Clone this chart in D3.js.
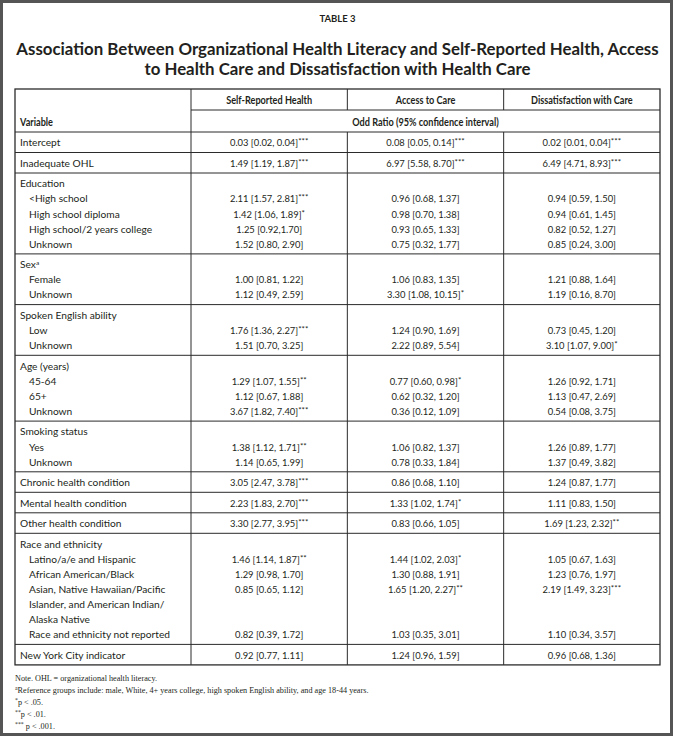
<!DOCTYPE html>
<html>
<head>
<meta charset="utf-8">
<script src="https://cdn.jsdelivr.net/npm/d3@7"></script>
<style>
  html, body { margin: 0; padding: 0; background: #fff; }
  svg { display: block; }
</style>
</head>
<body>
<div id="table3"></div>
<script>
// Row groups: first entry is the group label, following entries are indented sub-rows
const variableGroups = [
  ['Intercept'],
  ['Inadequate OHL'],
  ['Education', '<High school', 'High school diploma', 'High school/2 years college', 'Unknown'],
  ['Sex|a', 'Female', 'Unknown'],
  ['Spoken English ability', 'Low', 'Unknown'],
  ['Age (years)', '45-64', '65+', 'Unknown'],
  ['Smoking status', 'Yes', 'Unknown'],
  ['Chronic health condition'],
  ['Mental health condition'],
  ['Other health condition'],
  ['Race and ethnicity', 'Latino/a/e and Hispanic', 'African American/Black',
    'Asian, Native Hawaiian/Pacific', 'Islander, and American Indian/', 'Alaska Native',
    'Race and ethnicity not reported'],
  ['New York City indicator']
];

const columns = ['Self-Reported Health', 'Access to Care', 'Dissatisfaction with Care'];

// one entry per printed line, '' where the line carries no estimate
const selfReported = [
  '0.03 [0.02, 0.04]***',
  '1.49 [1.19, 1.87]***',
  '', '2.11 [1.57, 2.81]***', '1.42 [1.06, 1.89]*', '1.25 [0.92,1.70]', '1.52 [0.80, 2.90]',
  '', '1.00 [0.81, 1.22]', '1.12 [0.49, 2.59]',
  '', '1.76 [1.36, 2.27]***', '1.51 [0.70, 3.25]',
  '', '1.29 [1.07, 1.55]**', '1.12 [0.67, 1.88]', '3.67 [1.82, 7.40]***',
  '', '1.38 [1.12, 1.71]**', '1.14 [0.65, 1.99]',
  '3.05 [2.47, 3.78]***',
  '2.23 [1.83, 2.70]***',
  '3.30 [2.77, 3.95]***',
  '', '1.46 [1.14, 1.87]**', '1.29 [0.98, 1.70]', '0.85 [0.65, 1.12]', '', '', '0.82 [0.39, 1.72]',
  '0.92 [0.77, 1.11]'
];

const accessToCare = [
  '0.08 [0.05, 0.14]***',
  '6.97 [5.58, 8.70]***',
  '', '0.96 [0.68, 1.37]', '0.98 [0.70, 1.38]', '0.93 [0.65, 1.33]', '0.75 [0.32, 1.77]',
  '', '1.06 [0.83, 1.35]', '3.30 [1.08, 10.15]*',
  '', '1.24 [0.90, 1.69]', '2.22 [0.89, 5.54]',
  '', '0.77 [0.60, 0.98]*', '0.62 [0.32, 1.20]', '0.36 [0.12, 1.09]',
  '', '1.06 [0.82, 1.37]', '0.78 [0.33, 1.84]',
  '0.86 [0.68, 1.10]',
  '1.33 [1.02, 1.74]*',
  '0.83 [0.66, 1.05]',
  '', '1.44 [1.02, 2.03]*', '1.30 [0.88, 1.91]', '1.65 [1.20, 2.27]**', '', '', '1.03 [0.35, 3.01]',
  '1.24 [0.96, 1.59]'
];

const dissatisfaction = [
  '0.02 [0.01, 0.04]***',
  '6.49 [4.71, 8.93]***',
  '', '0.94 [0.59, 1.50]', '0.94 [0.61, 1.45]', '0.82 [0.52, 1.27]', '0.85 [0.24, 3.00]',
  '', '1.21 [0.88, 1.64]', '1.19 [0.16, 8.70]',
  '', '0.73 [0.45, 1.20]', '3.10 [1.07, 9.00]*',
  '', '1.26 [0.92, 1.71]', '1.13 [0.47, 2.69]', '0.54 [0.08, 3.75]',
  '', '1.26 [0.89, 1.77]', '1.37 [0.49, 3.82]',
  '1.24 [0.87, 1.77]',
  '1.11 [0.83, 1.50]',
  '1.69 [1.23, 2.32]**',
  '', '1.05 [0.67, 1.63]', '1.23 [0.76, 1.97]', '2.19 [1.49, 3.23]***', '', '', '1.10 [0.34, 3.57]',
  '0.96 [0.68, 1.36]'
];

const notes = [
  'Note. OHL = organizational health literacy.',
  'a|Reference groups include: male, White, 4+ years college, high spoken English ability, and age 18-44 years.',
  '*|p < .05.',
  '**|p < .01.',
  '***| p < .001.'
];

const width = 675;
const height = 738;
const ink = '#231f20';
const sans = 'Lato, "Open Sans", sans-serif';
const serif = '"Liberation Serif", "DejaVu Serif", serif';

const tableLeft = 15, tableRight = 660, firstColRight = 191;
const tableTop = 89, subLineY = 110, headBottom = 132;
const singleRowH = 20.5, lineStep = 15.1;

const svg = d3.create('svg')
  .attr('width', width)
  .attr('height', height)
  .attr('viewBox', [0, 0, width, height].join(' '));

// outer frame of the figure
svg.append('rect')
  .attr('x', 1.5).attr('y', 1.5)
  .attr('width', width - 5).attr('height', height - 5)
  .attr('fill', 'none')
  .attr('stroke', '#555')
  .attr('stroke-width', 3);

// bold condensed look: squeeze bold heading text
const condense = (sel, k) => sel.each(function () {
  const len = this.getComputedTextLength();
  d3.select(this).attr('textLength', len * k).attr('lengthAdjust', 'spacingAndGlyphs');
});

const g = svg.append('g');
document.getElementById('table3').append(svg.node());

g.append('text')
  .attr('x', width / 2).attr('y', 22)
  .attr('text-anchor', 'middle')
  .attr('font-family', sans).attr('font-weight', 'bold').attr('font-size', 9.5)
  .attr('fill', ink)
  .text('TABLE 3');

const titleLines = [
  'Association Between Organizational Health Literacy and Self-Reported Health, Access',
  'to Health Care and Dissatisfaction with Health Care'
];

const xCol = d3.scaleBand().domain(columns).range([firstColRight, tableRight]);

// build the line layout for the body rows
const rows = [];
let lineIndex = 0;
let yCursor = headBottom;
variableGroups.forEach(group => {
  const h = singleRowH + (group.length - 1) * lineStep;
  const lines = group.map((label, i) => ({
    label,
    indent: i > 0,
    idx: lineIndex + i
  }));
  rows.push({ top: yCursor, bottom: yCursor + h, lines });
  lineIndex += group.length;
  yCursor += h;
});
const tableBottom = yCursor;

const yLine = (row, i) => row.top + 14.3 + i * lineStep;

const titles = g.append('g')
  .selectAll('text')
  .data(titleLines)
  .join('text')
  .attr('x', width / 2)
  .attr('y', (d, i) => 55 + i * 20)
  .attr('text-anchor', 'middle')
  .attr('font-family', sans).attr('font-weight', 'bold').attr('font-size', 17)
  .attr('fill', ink)
  .text(d => d);
condense(titles, 0.99);

// grid lines
const grid = g.append('g').attr('stroke', '#2b2b2b').attr('stroke-width', 1).attr('fill', 'none');
grid.append('rect')
  .attr('x', tableLeft).attr('y', tableTop)
  .attr('width', tableRight - tableLeft).attr('height', tableBottom - tableTop)
  .attr('stroke-width', 1.3);
grid.append('line')
  .attr('x1', firstColRight).attr('x2', tableRight)
  .attr('y1', subLineY).attr('y2', subLineY);
grid.selectAll('line.h')
  .data([headBottom].concat(rows.slice(0, -1).map(r => r.bottom)))
  .join('line')
  .attr('class', 'h')
  .attr('x1', tableLeft).attr('x2', tableRight)
  .attr('y1', d => d).attr('y2', d => d);
grid.selectAll('line.v')
  .data(columns)
  .join('line')
  .attr('class', 'v')
  .attr('x1', d => xCol(d)).attr('x2', d => xCol(d))
  .attr('y1', (d, i) => i === 0 ? tableTop : headBottom)
  .attr('y2', tableBottom);
// upper part of the inner dividers, above the shared "Odd Ratio" cell
grid.selectAll('line.vtop')
  .data(columns.slice(1))
  .join('line')
  .attr('class', 'vtop')
  .attr('x1', d => xCol(d)).attr('x2', d => xCol(d))
  .attr('y1', tableTop).attr('y2', subLineY);

// header
const head = g.append('g')
  .attr('font-family', sans).attr('font-weight', 'bold').attr('font-size', 10.5)
  .attr('fill', ink);
const headCols = head.selectAll('text.col')
  .data(columns)
  .join('text')
  .attr('class', 'col')
  .attr('x', d => xCol(d) + xCol.bandwidth() / 2)
  .attr('y', 104)
  .attr('text-anchor', 'middle')
  .text(d => d);
condense(headCols, 0.87);
const headVar = head.append('text')
  .attr('x', 20).attr('y', 126)
  .text('Variable');
condense(headVar, 0.87);
const headOr = head.append('text')
  .attr('x', (firstColRight + tableRight) / 2).attr('y', 126)
  .attr('text-anchor', 'middle')
  .text('Odd Ratio (95% confidence interval)');
condense(headOr, 0.87);

// variable labels
const body = g.append('g')
  .attr('font-family', sans).attr('font-size', 10.2)
  .attr('fill', ink);
const allLines = rows.flatMap(r => r.lines.map((l, i) => ({ ...l, y: yLine(r, i) })));

body.selectAll('text.lab')
  .data(allLines)
  .join('text')
  .attr('class', 'lab')
  .attr('x', d => d.indent ? 29 : 20)
  .attr('y', d => d.y)
  .each(function (d) {
    const [main, sup] = d.label.split('|');
    const t = d3.select(this);
    t.append('tspan').text(main);
    if (sup) {
      t.append('tspan').attr('font-size', 6.5).attr('dy', -3.5).text(sup);
    }
  });

// estimates
const series = [selfReported, accessToCare, dissatisfaction];
series.forEach((values, ci) => {
  body.append('g')
    .attr('font-size', 9.4)
    .selectAll('text')
    .data(allLines.filter(d => values[d.idx]))
    .join('text')
    .attr('x', xCol(columns[ci]) + xCol.bandwidth() / 2)
    .attr('y', d => d.y)
    .attr('text-anchor', 'middle')
    .each(function (d) {
      const v = values[d.idx];
      const m = v.match(/^(.*?\])(\**)$/);
      const t = d3.select(this);
      t.append('tspan').text(m[1]);
      if (m[2]) {
        t.append('tspan').attr('font-size', 8).attr('dy', -2).text(m[2]);
      }
    });
});

// notes
g.append('g')
  .attr('font-family', serif).attr('font-size', 8.2)
  .attr('fill', ink)
  .selectAll('text')
  .data(notes)
  .join('text')
  .attr('x', 15)
  .attr('y', (d, i) => tableBottom + 16 + i * 12)
  .each(function (d) {
    const t = d3.select(this);
    const parts = d.split('|');
    if (parts.length === 1) {
      t.text(d);
    } else {
      t.append('tspan').attr('font-size', 5.8).attr('dy', -2.8).text(parts[0]);
      t.append('tspan').attr('dy', 2.8).text(parts[1]);
    }
  });
</script>
</body>
</html>
